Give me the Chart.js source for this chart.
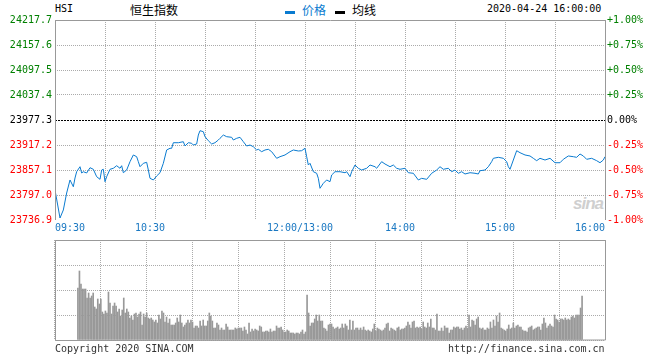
<!DOCTYPE html>
<html>
<head>
<meta charset="utf-8">
<script src="https://cdn.jsdelivr.net/npm/chart.js@4.4.1/dist/chart.umd.min.js"></script>
<style>
  body { margin: 0; background: #fff; }
  #wrap { position: relative; width: 660px; height: 360px; overflow: hidden; font-family: "DejaVu Sans Mono", monospace; font-size: 10px; color: #000; }
  .t { position: absolute; white-space: nowrap; line-height: 12px; }
  .cjk { font-family: "Noto Sans CJK SC", sans-serif; font-size: 12px; line-height: 14px; }
  .mark { position: absolute; width: 10px; height: 3px; }
  .logo { position: absolute; left: 573px; top: 194px; font: italic bold 17px "Liberation Sans", sans-serif; color: #cfcfcf; letter-spacing: -1px; }
  canvas { position: absolute; left: 0; }
</style>
</head>
<body>
<div id="wrap">
  <span class="t" style="left:55px;top:3px">HSI</span>
  <span class="t cjk" style="left:130px;top:3px">恒生指数</span>
  <span class="mark" style="left:285px;top:11px;background:#0a7bd0"></span>
  <span class="t cjk" style="left:302px;top:3px;color:#0a7bd0">价格</span>
  <span class="mark" style="left:335px;top:11px;background:#000"></span>
  <span class="t cjk" style="left:352px;top:3px">均线</span>
  <span class="t" style="left:487px;top:3px">2020-04-24 16:00:00</span>
  <span class="logo">sina</span>
  <canvas id="priceChart" width="660" height="236" style="top:0"></canvas>
  <canvas id="volChart" width="660" height="124" style="top:236px"></canvas>
  <span class="t" style="left:55px;top:343px;color:#333">Copyright 2020 SINA.COM</span>
  <span class="t" style="left:448px;top:343px;color:#333">http://finance.sina.com.cn</span>
</div>
<script>
// HSI intraday, 2020-04-24
var prevClose = 23977.3;

var priceTimes = [
  '09:30','09:33','09:35','09:37','09:39','09:41','09:42','09:43','09:45','09:46',
  '09:47','09:49','09:51','09:53','09:55','09:57','09:58','09:59','10:00','10:01',
  '10:03','10:05','10:07','10:09','10:10','10:11','10:13','10:15','10:17','10:19',
  '10:20','10:21','10:23','10:25','10:26','10:27','10:29','10:31','10:33','10:35',
  '10:37','10:39','10:40','10:41','10:44','10:47','10:48','10:50','10:52','10:53',
  '10:55','10:56','10:57','10:59','11:00','11:02','11:04','11:06','11:08','11:09',
  '11:11','11:13','11:16','11:17','11:19','11:21','11:23','11:25','11:27','11:29',
  '11:31','11:32','11:34','11:36','11:38','11:40','11:43','11:45','11:48','11:51',
  '11:53','11:56','11:58','12:00','13:01','13:02','13:03','13:05','13:07','13:08',
  '13:09','13:11','13:13','13:15','13:16','13:18','13:21','13:24','13:25','13:27',
  '13:28','13:30','13:32','13:34','13:37','13:39','13:42','13:43','13:46','13:48',
  '13:51','13:53','13:55','13:57','14:00','14:02','14:05','14:08','14:10','14:13',
  '14:16','14:19','14:21','14:23','14:26','14:28','14:30','14:32','14:34','14:36',
  '14:39','14:42','14:44','14:45','14:48','14:50','14:52','14:53','14:56','14:59',
  '15:01','15:02','15:03','15:05','15:07','15:09','15:12','15:15','15:17','15:19',
  '15:21','15:24','15:27','15:30','15:33','15:35','15:38','15:41','15:43','15:45',
  '15:47','15:49','15:52','15:55','15:57','15:59','16:00'
];

var priceVals = [
  23809.0,23741.7,23761.0,23801.8,23833.1,23816.9,23837.9,23853.0,23865.0,23849.9,
  23853.0,23849.9,23862.6,23858.8,23841.0,23834.7,23857.1,23858.8,23829.0,23841.0,
  23858.8,23861.2,23867.4,23861.2,23867.4,23850.6,23857.1,23877.1,23893.2,23889.1,
  23877.1,23865.0,23873.2,23875.6,23857.1,23837.1,23833.1,23842.7,23850.6,23873.2,
  23905.2,23909.3,23909.3,23922.7,23922.7,23925.1,23914.8,23922.7,23921.3,23917.2,
  23919.6,23941.2,23951.6,23949.2,23937.2,23927.5,23919.6,23922.7,23929.2,23933.3,
  23941.2,23937.2,23935.7,23929.2,23933.3,23935.7,23925.1,23914.8,23917.2,23913.1,
  23905.2,23906.9,23901.1,23905.2,23906.9,23901.1,23885.2,23889.1,23893.2,23901.1,
  23905.2,23902.8,23903.5,23909.3,23889.1,23869.1,23873.2,23853.0,23849.2,23837.1,
  23813.1,23825.1,23833.1,23829.0,23845.1,23853.0,23853.0,23850.6,23853.0,23841.0,
  23853.0,23869.1,23861.2,23857.1,23861.2,23869.1,23865.0,23861.2,23877.1,23871.5,
  23865.0,23869.1,23861.2,23858.8,23861.2,23850.6,23849.2,23833.1,23837.1,23834.7,
  23849.2,23857.1,23865.0,23858.8,23861.2,23853.0,23857.1,23849.2,23853.0,23847.5,
  23850.6,23849.2,23847.5,23855.4,23857.1,23865.0,23877.1,23885.2,23887.6,23885.2,
  23877.1,23865.0,23858.8,23881.1,23903.5,23898.7,23893.2,23890.8,23885.2,23879.5,
  23885.2,23881.1,23885.2,23874.6,23874.6,23882.8,23890.8,23889.1,23887.6,23895.6,
  23890.8,23882.8,23885.2,23879.5,23874.6,23881.1,23889.1
];

// one bar per minute, 09:30 .. 16:00 (lunch removed), relative volume
var volumes = [
  52,
  69,56,51,51,51,42,47,42,44,47,
  33,31,41,36,41,28,26,29,27,48,
  37,26,34,37,34,28,31,24,30,42,
  27,31,28,22,24,20,26,27,23,26,
  28,15,26,23,27,22,21,22,20,18,
  20,17,25,21,29,27,18,23,17,21,
  15,15,15,17,22,18,25,17,13,15,
  17,20,17,20,18,12,14,14,12,19,
  14,20,14,14,19,27,24,19,12,12,
  17,15,10,12,10,10,16,13,10,10,
  10,10,12,11,12,12,12,9,13,10,
  6,17,8,11,9,11,10,9,14,13,
  8,8,9,9,8,11,8,9,9,14,
  12,12,13,10,8,8,10,9,7,7,
  7,6,7,7,6,8,10,6,8,45,
  27,14,17,17,21,25,19,25,19,19,
  12,11,9,15,16,16,13,11,12,13,
  11,12,16,12,16,14,10,20,10,19,
  10,12,12,10,12,10,13,10,9,10,
  9,8,11,16,9,12,11,10,9,10,
  12,16,17,9,12,11,10,9,12,13,
  10,11,11,12,14,18,15,12,18,19,
  12,13,12,13,11,18,13,12,17,13,
  21,12,12,10,26,9,9,12,9,14,
  12,12,7,10,10,13,12,13,13,11,
  12,10,12,14,12,25,13,20,19,15,
  21,23,12,11,12,10,10,12,11,18,
  12,20,14,24,18,27,12,11,10,9,
  11,15,11,12,17,12,14,15,13,13,
  10,9,9,8,12,13,14,10,11,12,
  13,13,10,16,22,17,12,14,16,14,
  13,25,21,20,18,21,21,20,22,20,
  21,20,23,24,22,25,25,25,32,44
];

var priceTicks = [23736.9, 23797.0, 23857.1, 23917.2, 23977.3, 24037.4, 24097.5, 24157.6, 24217.7];
var pctTicks = [-1, -0.75, -0.5, -0.25, 0, 0.25, 0.5, 0.75, 1];
var volTicks = [0, 25, 50, 75, 100];
var gridTimes = ['09:30','10:00','10:30','11:00','11:30','12:00','13:30','14:00','14:30','15:00','15:30','16:00'];
var timeLabels = ['09:30','10:30','12:00/13:00','14:00','15:00','16:00'];

var MONO = 'DejaVu Sans Mono';
var GRID = '#ababab';
var FRAME = '#999999';

// minutes since 09:30 with the lunch break squeezed out
function toIdx(t) {
  var p = t.split(':');
  var m = parseInt(p[0], 10) * 60 + parseInt(p[1], 10);
  return m <= 720 ? m - 570 : m - 630;
}

function setTicks(list) {
  return function(scale) { scale.ticks = list.map(function(v) { return { value: v }; }); };
}

var frame = {
  id: 'frame',
  afterDraw: function(chart, args, opts) {
    var a = chart.chartArea, ctx = chart.ctx;
    ctx.save();
    ctx.strokeStyle = FRAME;
    ctx.lineWidth = 1;
    ctx.beginPath();
    ctx.moveTo(a.left + 0.5, a.bottom + (opts.extend || 0));
    ctx.lineTo(a.left + 0.5, a.top + 0.5);
    ctx.lineTo(a.right + 0.5, a.top + 0.5);
    ctx.lineTo(a.right + 0.5, a.bottom + (opts.extend || 0));
    if (opts.bottom) ctx.lineTo(a.left + 0.5, a.bottom + 0.5);
    ctx.stroke();
    ctx.restore();
  }
};

var zeroLine = {
  id: 'zeroLine',
  beforeDatasetsDraw: function(chart) {
    var a = chart.chartArea, ctx = chart.ctx;
    var y = Math.round(chart.scales.y.getPixelForValue(prevClose)) + 0.5;
    ctx.save();
    ctx.strokeStyle = '#000';
    ctx.setLineDash([2, 1]);
    ctx.beginPath();
    ctx.moveTo(a.left, y);
    ctx.lineTo(a.right, y);
    ctx.stroke();
    ctx.restore();
  }
};

var timeAxis = {
  id: 'timeAxis',
  afterDraw: function(chart) {
    var ctx = chart.ctx, xs = chart.scales.x, y = chart.chartArea.bottom + 8;
    ctx.save();
    ctx.font = '10px "' + MONO + '"';
    ctx.fillStyle = '#1a78c2';
    ctx.textBaseline = 'middle';
    timeLabels.forEach(function(lab, i) {
      var px = xs.getPixelForValue(toIdx(lab.split('/')[0]));
      if (i === 0) { ctx.textAlign = 'left'; }
      else if (i === timeLabels.length - 1) { ctx.textAlign = 'right'; }
      else { ctx.textAlign = 'center'; px -= 5; }
      ctx.fillText(lab, px, y);
    });
    ctx.restore();
  }
};

function tickColor(v, mid) {
  if (Math.abs(v - mid) < 1e-6) return '#000';
  return v > mid ? '#008000' : '#ff0000';
}

var xGridScale = {
  type: 'linear', min: 0, max: 330,
  afterBuildTicks: setTicks(gridTimes.map(toIdx)),
  afterFit: function(s) { s.height = 0; },
  grid: { color: GRID, drawTicks: false },
  border: { display: false, dash: [1, 1] },
  ticks: { display: false }
};

new Chart(document.getElementById('priceChart'), {
  type: 'line',
  data: {
    datasets: [{
      label: '价格',
      data: priceTimes.map(function(t, i) { return { x: toIdx(t), y: priceVals[i] }; }),
      borderColor: '#0a7bd0',
      borderWidth: 1,
      pointRadius: 0,
      tension: 0,
      yAxisID: 'y'
    }]
  },
  options: {
    responsive: false,
    animation: false,
    devicePixelRatio: 1,
    events: [],
    layout: { padding: { top: 20, bottom: 16, left: 0, right: 0 } },
    plugins: { legend: { display: false }, tooltip: { enabled: false },
      frame: { extend: 0 } },
    scales: {
      x: xGridScale,
      y: {
        position: 'left',
        min: priceTicks[0], max: priceTicks[priceTicks.length - 1],
        afterBuildTicks: setTicks(priceTicks),
        afterFit: function(s) { s.width = 55; },
        grid: {
          drawTicks: false,
          color: function(c) {
            var v = c.tick ? c.tick.value : null;
            return (v === prevClose || v === priceTicks[0]) ? 'rgba(0,0,0,0)' : GRID;
          }
        },
        border: { display: false, dash: [1, 1] },
        ticks: {
          padding: 3,
          font: { family: MONO, size: 10 },
          color: function(c) { return tickColor(c.tick.value, prevClose); },
          callback: function(v) { return v.toFixed(1); }
        }
      },
      y2: {
        position: 'right',
        min: -1, max: 1,
        afterBuildTicks: setTicks(pctTicks),
        afterFit: function(s) { s.width = 55; },
        grid: { display: false, drawTicks: false },
        border: { display: false },
        ticks: {
          padding: 2,
          font: { family: MONO, size: 10 },
          color: function(c) { return tickColor(c.tick.value, 0); },
          callback: function(v) { return (v > 0 ? '+' : '') + v.toFixed(2) + '%'; }
        }
      }
    }
  },
  plugins: [zeroLine, frame, timeAxis]
});

new Chart(document.getElementById('volChart'), {
  type: 'bar',
  data: {
    datasets: [{
      label: '成交量',
      data: volumes.map(function(v, i) { return { x: i, y: v }; }),
      backgroundColor: '#999999',
      barThickness: 1,
      borderWidth: 0
    }]
  },
  options: {
    responsive: false,
    animation: false,
    devicePixelRatio: 1,
    events: [],
    layout: { padding: { top: 4, bottom: 20, left: 0, right: 55 } },
    plugins: { legend: { display: false }, tooltip: { enabled: false },
      frame: { bottom: true } },
    scales: {
      x: xGridScale,
      y: {
        min: 0, max: 100,
        afterBuildTicks: setTicks(volTicks),
        afterFit: function(s) { s.width = 55; },
        grid: { color: GRID, drawTicks: false },
        border: { display: false, dash: [1, 1] },
        ticks: { display: false }
      }
    }
  },
  plugins: [frame]
});
</script>
</body>
</html>
